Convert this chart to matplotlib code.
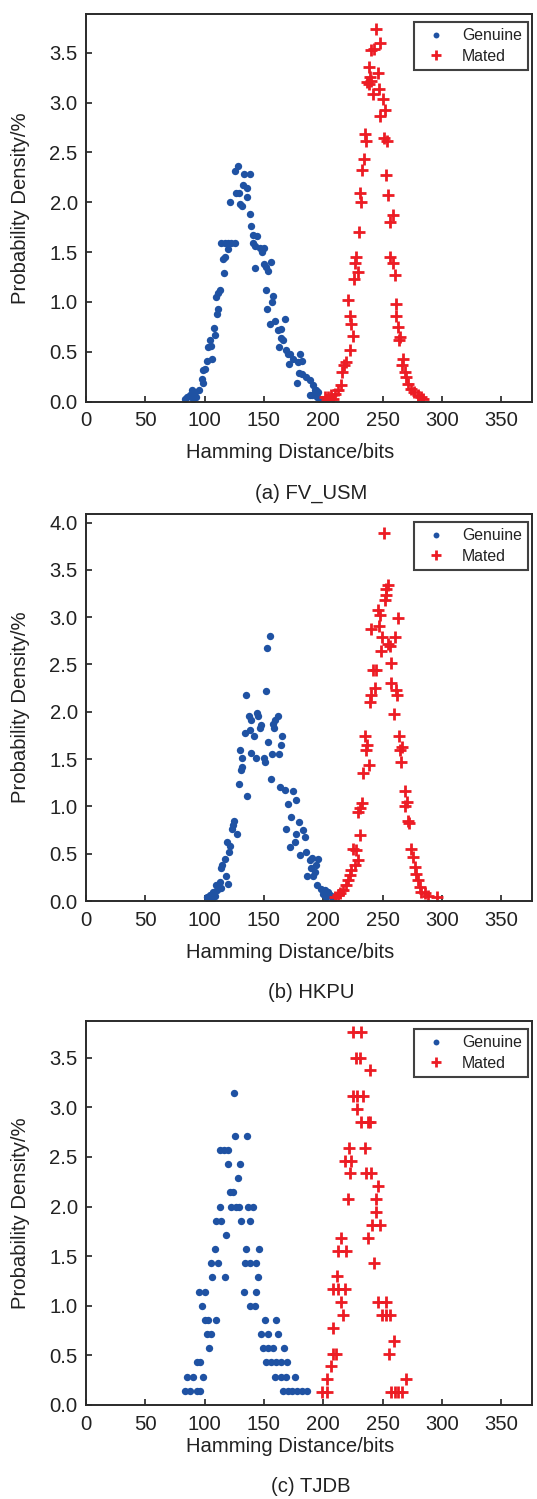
import matplotlib
matplotlib.use("Agg")
import matplotlib.pyplot as plt
import numpy as np

plt.rcParams['font.family'] = ['Liberation Sans', 'DejaVu Sans']

# ---------------- data ----------------
x_ticks = [0, 50, 100, 150, 200, 250, 300, 350]
panel_titles = ["(a) FV_USM", "(b) HKPU", "(c) TJDB"]
x_label = "Hamming Distance/bits"
y_label = "Probability Density/%"
legend_labels = ["Genuine", "Mated"]

gen_a_x = [83.4, 85.3, 87.6, 89.5, 90.0, 91.8, 93.0, 95.0, 97.4, 98.8, 98.8, 100.2, 101.6, 103.0,
           104.4, 105.8, 106.4, 107.8, 108.6, 109.2, 110.6, 111.7, 111.7, 112.8, 114.2, 115.6,
           116.5, 117.0, 117.6, 119.3, 119.8, 121.0, 122.6, 125.4, 125.4, 126.3, 128.0, 129.0,
           129.7, 131.6, 132.5, 133.6, 135.8, 136.0, 138.0, 138.6, 139.5, 141.0, 141.0, 142.6,
           142.8, 144.5, 146.5, 148.0, 150.0, 150.0, 151.5, 152.0, 152.7, 153.5, 155.0, 155.8,
           156.9, 157.7, 159.7, 162.0, 162.5, 164.0, 164.7, 166.0, 168.0, 169.0, 170.4, 171.0,
           171.8, 174.6, 177.7, 178.8, 179.3, 180.7, 182.4, 182.4, 185.8, 188.6, 189.0, 190.5,
           191.4, 192.8, 194.0, 195.6, 194.7, 197.0, 199.0]
gen_a_y = [0.03, 0.05, 0.07, 0.12, 0.03, 0.10, 0.05, 0.12, 0.23, 0.19, 0.32, 0.33, 0.41, 0.55,
           0.62, 0.56, 0.43, 0.74, 0.67, 1.05, 0.88, 0.93, 1.09, 1.12, 1.59, 1.43,
           1.29, 1.59, 1.45, 1.53, 1.59, 2.00, 1.59, 1.59, 2.31, 2.09, 2.36, 2.09,
           1.98, 1.96, 2.17, 2.28, 2.05, 2.14, 2.28, 1.88, 1.76, 1.67, 1.59, 1.34,
           1.56, 1.66, 1.54, 1.50, 1.54, 1.38, 1.12, 1.35, 0.93, 1.31, 0.78, 1.40,
           1.00, 1.06, 0.81, 0.72, 0.55, 0.73, 0.64, 0.62, 0.83, 0.52, 0.48, 0.38,
           0.48, 0.43, 0.19, 0.40, 0.29, 0.48, 0.41, 0.28, 0.25, 0.22, 0.07, 0.07,
           0.17, 0.12, 0.12, 0.10, 0.05, 0.03, 0.02]

mat_a_x = [201.3, 203.0, 204.0, 206.9, 208.0, 209.7, 212.5, 215.3, 216.1, 217.3, 218.9, 220.9,
           222.3, 222.9, 223.7, 225.1, 225.7, 226.5, 228.0, 229.3, 230.2, 230.7, 232.1, 233.0,
           234.0, 235.0, 236.3, 236.9, 238.6, 238.6, 239.2, 240.6, 240.6, 242.0, 242.5, 244.8,
           246.2, 247.0, 247.6, 248.1, 250.4, 251.0, 251.8, 253.2, 253.8, 254.6, 256.0, 256.6,
           258.8, 258.8, 260.2, 261.0, 261.6, 263.0, 263.6, 264.4, 266.7, 267.2, 268.6, 270.0,
           271.4, 274.2, 276.2, 279.9, 282.7, 284.0]
mat_a_y = [0.05, 0.02, 0.05, 0.065, 0.03, 0.08, 0.12, 0.17, 0.30, 0.37, 0.40, 1.02,
           0.52, 0.86, 0.78, 0.66, 1.23, 1.39, 1.45, 1.30, 1.70, 2.09, 2.00, 2.32,
           2.43, 2.69, 2.62, 3.21, 3.36, 3.19, 3.26, 3.53, 3.22, 3.09, 3.54, 3.74,
           3.30, 3.14, 3.60, 2.87, 3.04, 2.65, 2.93, 2.27, 2.62, 2.07, 1.80, 1.45,
           1.87, 1.39, 1.27, 0.98, 0.86, 0.75, 0.62, 0.65, 0.37, 0.43, 0.30, 0.25,
           0.18, 0.13, 0.10, 0.065, 0.05, 0.03]

gen_b_x = [154.9, 153.0, 151.6, 134.7, 137.2, 139.5, 144.3, 145.4, 147.6, 146.5, 138.1, 133.9,
           141.5, 159.1, 162.0, 158.6, 157.7, 153.5, 165.6, 164.8, 130.0, 131.6, 139.5, 143.1,
           149.9, 150.7, 156.9, 162.8, 131.9, 130.5, 128.8, 135.8, 155.8, 163.3, 167.6, 174.6,
           177.4, 170.6, 124.9, 124.0, 122.7, 127.4, 173.2, 169.0, 179.6, 176.8, 183.0, 184.4,
           119.0, 121.3, 120.4, 176.0, 171.8, 180.8, 185.8, 116.8, 114.8, 113.4, 188.6, 190.8,
           195.6, 193.7, 190.0, 192.8, 186.4, 191.4, 117.9, 112.8, 109.5, 119.8, 114.2, 110.6,
           107.2, 104.4, 108.6, 101.6, 194.8, 198.4, 201.2, 204.0, 199.8, 205.4, 206.8, 202.6,
           103.0, 106.0, 208.0]
gen_b_y = [2.80, 2.67, 2.22, 2.18, 1.96, 1.91, 1.99, 1.95, 1.86, 1.83, 1.81, 1.78,
           1.74, 1.91, 1.96, 1.83, 1.87, 1.68, 1.74, 1.65, 1.60, 1.51, 1.56, 1.51,
           1.51, 1.47, 1.55, 1.55, 1.42, 1.38, 1.24, 1.11, 1.29, 1.20, 1.17, 1.16,
           1.07, 1.02, 0.85, 0.80, 0.76, 0.71, 0.89, 0.76, 0.84, 0.71, 0.75, 0.68,
           0.62, 0.58, 0.52, 0.62, 0.575, 0.49, 0.52, 0.44, 0.38, 0.35, 0.43, 0.45,
           0.44, 0.38, 0.35, 0.31, 0.26, 0.26, 0.26, 0.20, 0.17, 0.18, 0.14, 0.12,
           0.09, 0.06, 0.05, 0.04, 0.17, 0.13, 0.12, 0.10, 0.07, 0.06, 0.05, 0.04,
           0.02, 0.02, 0.02]

mat_b_x = [250.9, 254.5, 253.1, 252.6, 251.7, 246.1, 247.5, 263.0, 240.5, 247.0, 249.8, 260.2,
           254.5, 255.9, 248.4, 256.8, 241.9, 244.7, 257.3, 261.0, 262.1, 243.3, 240.5, 239.1,
           259.3, 234.9, 236.9, 236.3, 263.8, 266.6, 264.4, 265.8, 238.5, 233.5, 268.6, 270.5,
           268.6, 232.9, 230.7, 229.3, 271.4, 272.2, 230.7, 225.1, 227.3, 229.3, 226.5, 223.7,
           222.3, 220.9, 218.9, 216.6, 213.8, 212.4, 209.6, 273.6, 275.6, 277.0, 278.4, 279.8,
           281.2, 282.6, 285.4, 288.2, 295.8]
mat_b_y = [3.89, 3.34, 3.30, 3.23, 3.18, 3.08, 3.02, 2.99, 2.87, 2.91, 2.79, 2.79,
           2.72, 2.69, 2.64, 2.52, 2.44, 2.44, 2.30, 2.23, 2.18, 2.25, 2.18, 2.10,
           1.98, 1.74, 1.65, 1.60, 1.74, 1.63, 1.60, 1.47, 1.44, 1.35, 1.16, 1.05,
           1.00, 1.04, 0.98, 0.94, 0.85, 0.82, 0.70, 0.55, 0.54, 0.43, 0.38, 0.33,
           0.28, 0.22, 0.17, 0.12, 0.08, 0.06, 0.04, 0.55, 0.47, 0.36, 0.29, 0.22,
           0.15, 0.10, 0.08, 0.05, 0.04]

gen_c_x = [124.6, 125.7, 135.8, 112.8, 116.5, 120.1, 119.8, 130.2, 128.0, 121.2, 124.0,
           112.8, 122.4, 126.3, 129.1, 136.7, 140.9, 110.0, 114.2, 131.0, 138.1, 117.9,
           108.6, 134.7, 145.9, 105.8, 111.4, 133.9, 138.6, 143.7, 106.6, 117.0, 144.8,
           95.4, 100.2, 133.0, 142.9, 97.7, 138.6, 142.3, 100.2, 103.0, 110.0, 151.0, 160.5,
           102.2, 105.0, 147.9, 153.5, 162.0, 103.6, 149.3, 153.5, 157.7, 166.7,
           93.2, 96.5, 152.1, 156.3, 160.0, 164.7, 169.8, 84.8, 90.4, 98.8, 159.1, 164.7,
           168.4, 176.0, 83.5, 87.5, 93.5, 96.5, 166.0, 170.0, 174.0, 178.0, 182.5, 186.0]
gen_c_y = [3.143, 2.714, 2.714, 2.571, 2.571, 2.571, 2.429, 2.429, 2.286, 2.143, 2.143,
           2.0, 2.0, 2.0, 2.0, 2.0, 2.0, 1.857, 1.857, 1.857, 1.857, 1.714,
           1.571, 1.571, 1.571, 1.429, 1.429, 1.429, 1.429, 1.429, 1.286, 1.286, 1.286,
           1.143, 1.143, 1.143, 1.143, 1.0, 1.0, 1.0, 0.857, 0.857, 0.857, 0.857, 0.857,
           0.714, 0.714, 0.714, 0.714, 0.714, 0.571, 0.571, 0.571, 0.571, 0.571,
           0.429, 0.429, 0.429, 0.429, 0.429, 0.429, 0.429, 0.286, 0.286, 0.286, 0.286, 0.286,
           0.286, 0.286, 0.143, 0.143, 0.143, 0.143, 0.143, 0.143, 0.143, 0.143, 0.143, 0.143]

mat_c_x = [225.1, 231.6, 227.9, 230.7, 239.7, 225.1, 228.5, 233.5, 228.8, 232.1, 237.7, 239.1,
           221.7, 234.9, 218.1, 223.7, 222.9, 235.8, 240.5, 246.2, 220.9, 244.2, 244.8, 241.4,
           247.6, 214.7, 237.7, 212.5, 219.5, 242.8, 211.9, 208.3, 212.5, 218.1, 215.3, 246.2,
           252.6, 216.7, 249.8, 253.2, 256.5, 208.3, 259.3, 208.3, 211.1, 255.4, 206.9, 203.0,
           270.0, 199.0, 203.0, 257.0, 260.5, 263.0, 266.0]
mat_c_y = [3.761, 3.761, 3.502, 3.502, 3.372, 3.113, 3.113, 3.113, 2.983, 2.853, 2.853, 2.853,
           2.594, 2.594, 2.464, 2.464, 2.335, 2.335, 2.335, 2.205, 2.075, 2.075, 1.946, 1.816,
           1.816, 1.686, 1.686, 1.556, 1.556, 1.427, 1.297, 1.167, 1.167, 1.167, 1.038, 1.038,
           1.038, 0.908, 0.908, 0.908, 0.908, 0.778, 0.649, 0.519, 0.519, 0.519, 0.389, 0.259,
           0.259, 0.130, 0.130, 0.130, 0.130, 0.130, 0.130]

y_limits = [3.89, 4.09, 3.87]
y_tick_max = [3.5, 4.0, 3.5]

# ---------------- figure ----------------
W, H = 537, 1499
fig = plt.figure(figsize=(W / 100, H / 100), dpi=100)

def fx(px):
    return px / W

def fy(py):
    return 1 - py / H

# axes pixel boxes: (left, right, top, bottom)
boxes = [(86, 532, 14, 401.5), (86, 532, 514, 901), (86, 532, 1021, 1405)]
xlab_y = [452, 952, 1446]
title_y = [493, 993, 1487]

blue = '#1f52a3'
red = '#ec1c24'
fs = 14.6

datasets = [(gen_a_x, gen_a_y, mat_a_x, mat_a_y),
            (gen_b_x, gen_b_y, mat_b_x, mat_b_y),
            (gen_c_x, gen_c_y, mat_c_x, mat_c_y)]

for i, (gx, gy, mx, my) in enumerate(datasets):
    l, r, t, b = boxes[i]
    ax = fig.add_axes([fx(l), fy(b), (r - l) / W, (b - t) / H])
    ax.plot(gx, gy, linestyle='none', marker='o', markersize=5.3, color=blue,
            markeredgewidth=0, label=legend_labels[0])
    ax.plot(mx, my, linestyle='none', marker='+', markersize=8.5, color=red,
            markeredgewidth=2.0, label=legend_labels[1])
    ax.set_xlim(0, 376)
    ax.set_ylim(0, y_limits[i])
    ax.set_xticks(x_ticks)
    yt = np.arange(0, y_tick_max[i] + 0.01, 0.5)
    ax.set_yticks(yt)
    ax.set_yticklabels([f"{v:.1f}" for v in yt])
    ax.tick_params(direction='in', length=4, width=1.2, labelsize=fs, top=False, right=False,
                   colors='#222222', labelcolor='#222222')
    ax.tick_params(axis='x', pad=7)
    ax.tick_params(axis='y', pad=6)
    for s in ax.spines.values():
        s.set_linewidth(1.4)
        s.set_color('#2a2a2a')
    leg = ax.legend(loc='upper right',
                    bbox_to_anchor=((528 - l) / (r - l), 1 - 8 / (b - t)),
                    borderaxespad=0, fontsize=11.4, frameon=True, fancybox=False,
                    edgecolor='#111111', handlelength=2.0, handletextpad=0.6,
                    borderpad=0.4, labelspacing=0.35, markerscale=0.8)
    leg.get_frame().set_linewidth(1.5)
    for txt in leg.get_texts():
        txt.set_color('#222222')
    fig.text(fx(290), fy(xlab_y[i]), x_label, ha='center', va='center', fontsize=fs, color='#222222')
    fig.text(fx(311), fy(title_y[i]), panel_titles[i], ha='center', va='center', fontsize=fs, color='#222222')
    fig.text(fx(21), fy((t + b) / 2), y_label, ha='center', va='center', rotation=90,
             fontsize=fs, color='#222222')

fig.savefig('out.png', dpi=100)
